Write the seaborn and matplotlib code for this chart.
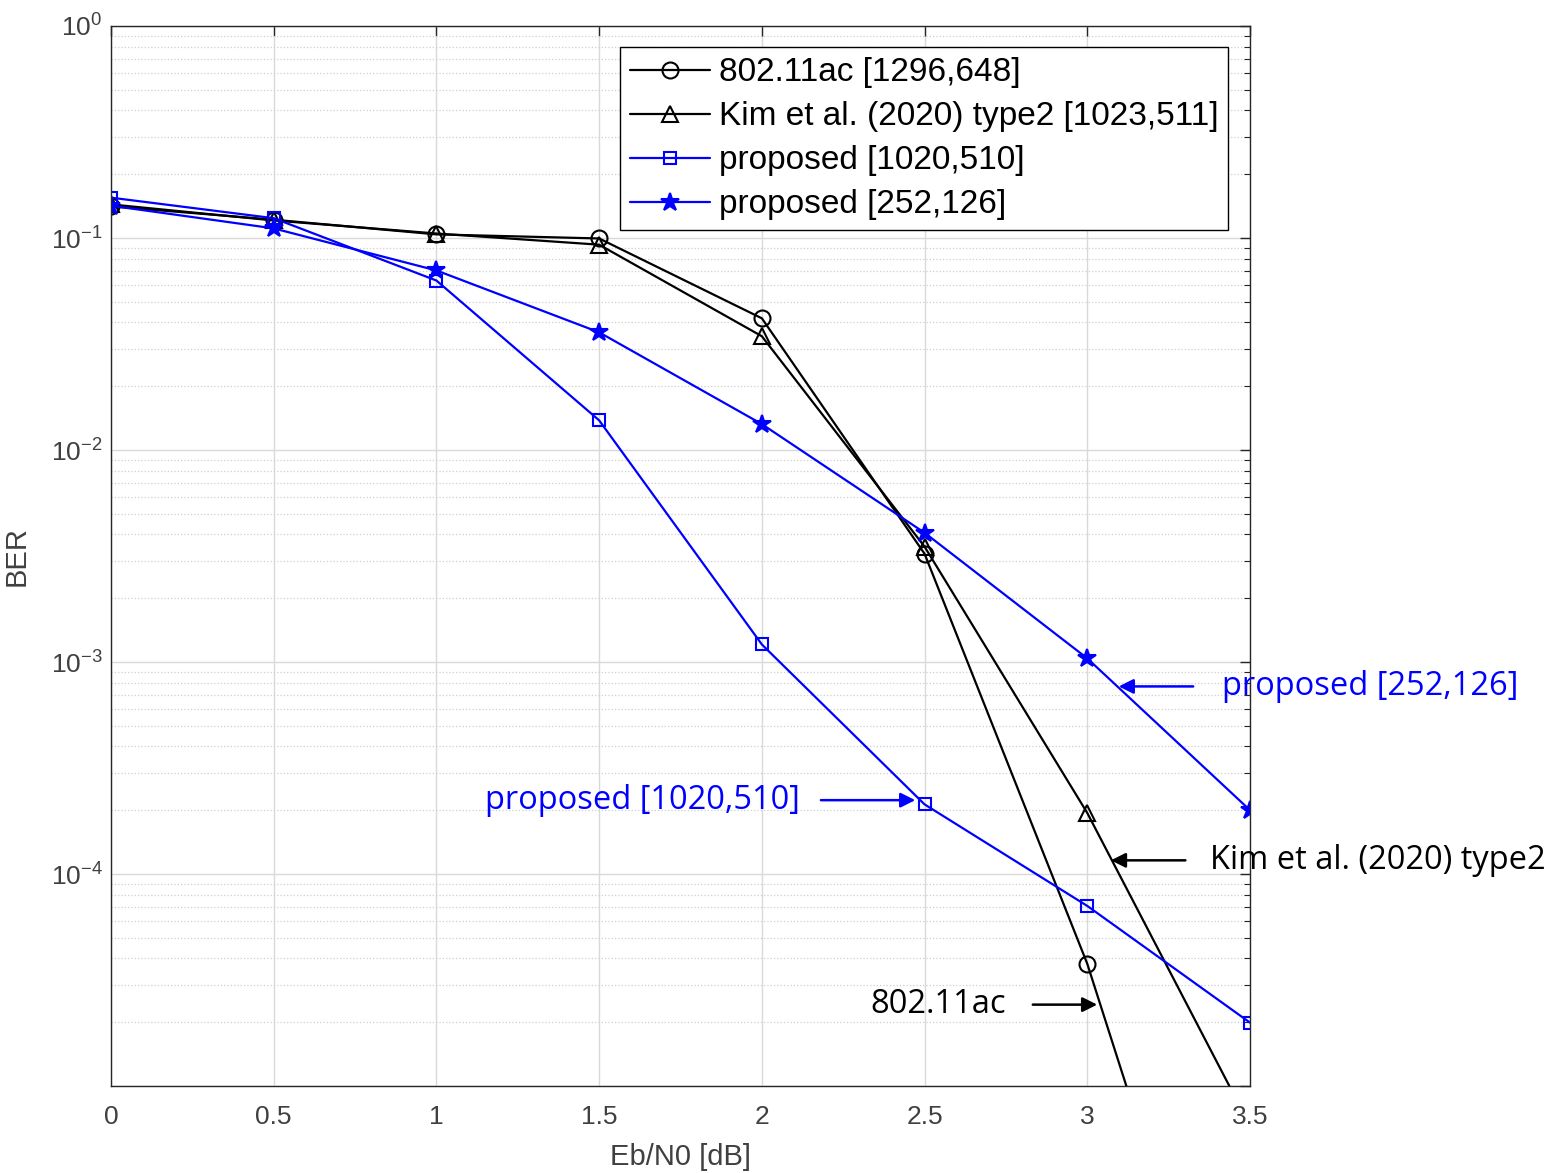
import numpy as np
import pandas as pd
import matplotlib
matplotlib.use("Agg")
import matplotlib.pyplot as plt
import seaborn as sns

# ---- data ----
ebn0 = [0, 0.5, 1, 1.5, 2, 2.5, 3, 3.5]
ber_80211ac = [0.141, 0.122, 0.104, 0.0995, 0.0418, 0.00324, 3.77e-5, 1.5e-7]
ber_kim = [0.144, 0.121, 0.105, 0.093, 0.0344, 0.0035, 1.94e-4, 6.5e-6]
ber_prop1020 = [0.155, 0.124, 0.063, 0.0138, 1.21e-3, 2.13e-4, 7.07e-5, 1.99e-5]
ber_prop252 = [0.142, 0.111, 0.0703, 0.0359, 0.01325, 0.00407, 1.04e-3, 2.0e-4]

labels = ["802.11ac [1296,648]", "Kim et al. (2020) type2 [1023,511]",
          "proposed [1020,510]", "proposed [252,126]"]
xticks = [0, 0.5, 1, 1.5, 2, 2.5, 3, 3.5]
xticklabels = ["0", "0.5", "1", "1.5", "2", "2.5", "3", "3.5"]

sns.set_style("white")
plt.rcParams['font.family'] = ['Liberation Sans', 'DejaVu Sans']
plt.rcParams['mathtext.fontset'] = 'custom'
plt.rcParams['mathtext.rm'] = 'Liberation Sans'
plt.rcParams['mathtext.it'] = 'Liberation Sans'
plt.rcParams['axes.unicode_minus'] = False

fig = plt.figure(figsize=(15.6, 11.73), dpi=100)
ax = fig.add_axes([111/1560, 1 - 1086/1173, (1250-111)/1560, (1086-26)/1173])

blue = "#0000FF"
black = "#000000"
series = [
    (ber_80211ac, labels[0], black, 'o', 11.5, 'none'),
    (ber_kim, labels[1], black, '^', 11.5, 'none'),
    (ber_prop1020, labels[2], blue, 's', 9, 'none'),
    (ber_prop252, labels[3], blue, '*', 13.5, blue),
]
for vals, lab, col, mk, ms, mfc in series:
    df = pd.DataFrame({"x": ebn0, "y": vals})
    sns.lineplot(data=df, x="x", y="y", ax=ax, color=col, marker=mk,
                 markersize=ms, markerfacecolor=mfc, markeredgecolor=col,
                 markeredgewidth=1.5, linewidth=1.6, label=lab,
                 errorbar=None, sort=False)

ax.set_yscale("log")
ax.set_xlim(0, 3.5)
ax.set_ylim(1e-5, 1)
ax.set_xticks(xticks)
ax.set_xticklabels(xticklabels)
ax.set_yticks([1e-5, 1e-4, 1e-3, 1e-2, 1e-1, 1])
ax.set_yticklabels(["", r"$10^{-4}$", r"$10^{-3}$", r"$10^{-2}$", r"$10^{-1}$", r"$10^{0}$"])

ax.grid(True, which='major', color='#d9d9d9', linewidth=1.0, linestyle='-')
ax.grid(True, which='minor', axis='y', color='#cfcfcf', linewidth=0.9, linestyle=':')
ax.tick_params(which='both', direction='in', top=True, right=True, colors='#262626',
               labelsize=19, labelcolor='#404040')
ax.tick_params(which='major', length=7, width=1)
ax.tick_params(which='minor', length=4, width=0.8)
ax.tick_params(axis='x', pad=14)
ax.tick_params(axis='y', pad=6)
for s in ax.spines.values():
    s.set_color('#262626')
    s.set_linewidth(1.0)

ax.set_xlabel("Eb/N0 [dB]", fontsize=21, color='#404040', labelpad=10)
ax.set_ylabel("BER", fontsize=21, color='#404040', labelpad=14)

leg = ax.legend(loc='upper right', bbox_to_anchor=(0.981, 0.980), borderaxespad=0,
                fontsize=24, handlelength=2.4, labelspacing=0.39, frameon=True,
                fancybox=False, framealpha=1, edgecolor='black', borderpad=0.3,
                handletextpad=0.25)
leg.get_frame().set_linewidth(1.0)
for t in leg.get_texts():
    t.set_color('black')

# annotations
annot_font = ['Open Sans', 'DejaVu Sans']
arrowprops_b = dict(arrowstyle='-|>', color=blue, lw=1.8, mutation_scale=22)
arrowprops_k = dict(arrowstyle='-|>', color=black, lw=1.8, mutation_scale=22)
afs = 23.5

ax.annotate("", xy=(3.088, 7.67e-4), xytext=(3.334, 7.67e-4), arrowprops=arrowprops_b,
            annotation_clip=False)
ax.text(3.414, 7.67e-4, "proposed [252,126]", color=blue, fontsize=afs, family=annot_font,
        va='center', ha='left', clip_on=False)

ax.annotate("", xy=(3.064, 1.16e-4), xytext=(3.31, 1.16e-4), arrowprops=arrowprops_k,
            annotation_clip=False)
ax.text(3.377, 1.16e-4, "Kim et al. (2020) type2", color=black, fontsize=afs, family=annot_font,
        va='center', ha='left', clip_on=False)

ax.annotate("", xy=(2.48, 2.23e-4), xytext=(2.173, 2.23e-4), arrowprops=arrowprops_b,
            annotation_clip=False)
ax.text(2.117, 2.23e-4, "proposed [1020,510]", color=blue, fontsize=afs, family=annot_font,
        va='center', ha='right', clip_on=False)

ax.annotate("", xy=(3.039, 2.42e-5), xytext=(2.824, 2.42e-5), arrowprops=arrowprops_k,
            annotation_clip=False)
ax.text(2.75, 2.42e-5, "802.11ac", color=black, fontsize=afs, family=annot_font,
        va='center', ha='right', clip_on=False)

fig.savefig("out.png", dpi=100)
